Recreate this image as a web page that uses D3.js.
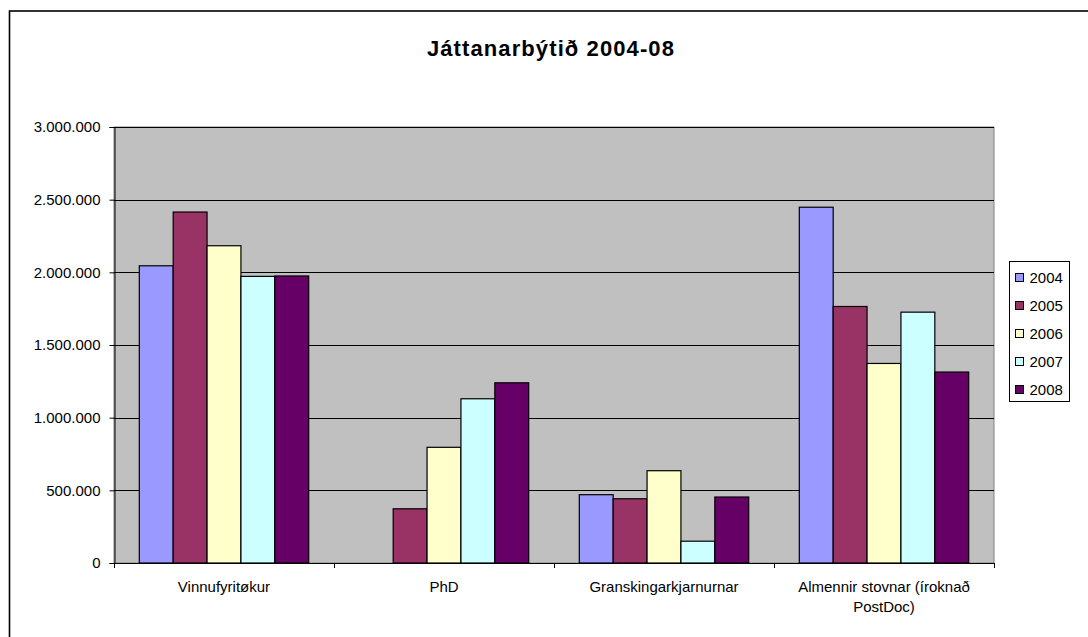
<!DOCTYPE html>
<html>
<head>
<meta charset="utf-8">
<script src="https://cdn.jsdelivr.net/npm/d3@7"></script>
<style>
  body { margin: 0; background: #fff; }
  text { font-family: Arial, "Liberation Sans", sans-serif; fill: #000; }
</style>
</head>
<body>
<div id="chart"></div>
<script>
// data
var categories = ["Vinnufyritøkur", "PhD", "Granskingarkjarnurnar", "Almennir stovnar (íroknað PostDoc)"];
var years = ["2004", "2005", "2006", "2007", "2008"];
var v2004 = [2045000, 0, 470000, 2448000];
var v2005 = [2415000, 373000, 442000, 1765000];
var v2006 = [2183000, 796000, 635000, 1373000];
var v2007 = [1972000, 1130000, 150000, 1726000];
var v2008 = [1975000, 1240000, 454000, 1314000];
var colors = ["#9999FF", "#993366", "#FFFFCC", "#CCFFFF", "#660066"];
var yTicks = [0, 500000, 1000000, 1500000, 2000000, 2500000, 3000000];
var title = "Játtanarbýtið 2004-08";

var series = [v2004, v2005, v2006, v2007, v2008];
var dataset = [];
categories.forEach(function(c, i){
	years.forEach(function(y, j){
		dataset.push({cat: c, year: y, value: series[j][i], color: colors[j]});
	});
});

var w = 1088, h = 637;
var m = {top: 127, left: 114, right: 994, bottom: 563};

var svg = d3.select("#chart")
            .append("svg")
            .attr("width", w)
            .attr("height", h);

// outer frame (cut off at right and bottom like the original)
svg.append("rect")
   .attr("x", 9.5)
   .attr("y", 11)
   .attr("width", w + 20)
   .attr("height", h + 20)
   .attr("fill", "#fff")
   .attr("stroke", "#000")
   .attr("stroke-width", 1.6);

// scales
var xScale = d3.scaleBand()
               .domain(categories)
               .range([m.left, m.right]);

var xInner = d3.scaleBand()
               .domain(years)
               .range([xScale.bandwidth() * 0.115, xScale.bandwidth() * 0.885]);

var yScale = d3.scaleLinear()
               .domain([0, 3000000])
               .range([m.bottom, m.top]);

var fmt = d3.formatLocale({decimal: ",", thousands: ".", grouping: [3], currency: ["", ""]}).format(",");

// plot area
svg.append("rect")
   .attr("x", m.left)
   .attr("y", m.top)
   .attr("width", m.right - m.left)
   .attr("height", m.bottom - m.top)
   .attr("fill", "#C0C0C0")
   .attr("stroke", "#808080")
   .attr("stroke-width", 1);

// gridlines
svg.append("g")
   .selectAll("line")
   .data(yTicks.slice(1))
   .enter()
   .append("line")
   .attr("x1", m.left)
   .attr("x2", m.right)
   .attr("y1", (d) => Math.round(yScale(d)) + 0.5)
   .attr("y2", (d) => Math.round(yScale(d)) + 0.5)
   .attr("stroke", "#000")
   .attr("stroke-width", 1);

// bars
svg.append("g")
   .selectAll("rect")
   .data(dataset.filter((d) => d.value > 0))
   .enter()
   .append("rect")
   .attr("x", (d) => xScale(d.cat) + xInner(d.year))
   .attr("y", (d) => yScale(d.value))
   .attr("width", xInner.bandwidth())
   .attr("height", (d) => yScale(0) - yScale(d.value))
   .attr("fill", (d) => d.color)
   .attr("stroke", "#000")
   .attr("stroke-width", 1.2);

// y axis
var yAxis = d3.axisLeft(yScale)
              .tickValues(yTicks)
              .tickSize(5)
              .tickPadding(9)
              .tickFormat(fmt);

var gy = svg.append("g")
   .attr("transform", "translate(" + (m.left + 0.5) + ",0)")
   .call(yAxis);
gy.selectAll("text").style("font-size", "15px").attr("font-family", null);
gy.selectAll("path, line").attr("stroke", "#000");

// x axis line and ticks at category borders
svg.append("line")
   .attr("x1", m.left)
   .attr("x2", m.right)
   .attr("y1", m.bottom + 0.5)
   .attr("y2", m.bottom + 0.5)
   .attr("stroke", "#000");

var borders = categories.map((c) => xScale(c)).concat([m.right]);
svg.append("g")
   .selectAll("line")
   .data(borders)
   .enter()
   .append("line")
   .attr("x1", (d) => Math.round(d) + 0.5)
   .attr("x2", (d) => Math.round(d) + 0.5)
   .attr("y1", m.bottom)
   .attr("y2", m.bottom + 5)
   .attr("stroke", "#000");

// category labels, wrapped to the band width
svg.append("g")
   .selectAll("text")
   .data(categories)
   .enter()
   .append("text")
   .attr("x", (d) => xScale(d) + xScale.bandwidth() / 2)
   .attr("y", 592)
   .style("font-size", "15px")
   .style("text-anchor", "middle")
   .each(function(d){
   	var el = d3.select(this);
   	var words = d.split(" ");
   	var line = [];
   	var tspan = el.append("tspan").attr("x", xScale(d) + xScale.bandwidth() / 2).attr("dy", 0);
   	words.forEach(function(word){
   		line.push(word);
   		tspan.text(line.join(" "));
   		if (tspan.node().getComputedTextLength() > 190 && line.length > 1) {
   			line.pop();
   			tspan.text(line.join(" "));
   			line = [word];
   			tspan = el.append("tspan")
   			          .attr("x", xScale(d) + xScale.bandwidth() / 2)
   			          .attr("dy", 20)
   			          .text(word);
   		}
   	});
   });

// title
svg.append("text")
   .attr("x", 551)
   .attr("y", 56)
   .style("font-size", "22px")
   .style("font-weight", "bold")
   .style("letter-spacing", "1.1px")
   .style("text-anchor", "middle")
   .text(title);

// legend
var legend = svg.append("g")
                .attr("transform", "translate(1009.5,261.5)");

legend.append("rect")
      .attr("width", 60)
      .attr("height", 140)
      .attr("fill", "#fff")
      .attr("stroke", "#000");

var items = legend.selectAll("g")
      .data(years)
      .enter()
      .append("g")
      .attr("transform", (d, i) => "translate(0," + (16 + i * 28) + ")");

items.append("rect")
     .attr("x", 6)
     .attr("y", -4)
     .attr("width", 8)
     .attr("height", 8)
     .attr("fill", (d, i) => colors[i])
     .attr("stroke", "#000");

items.append("text")
     .attr("x", 20)
     .attr("y", 0)
     .attr("dy", "0.35em")
     .style("font-size", "15px")
     .text((d) => d);
</script>
</body>
</html>
